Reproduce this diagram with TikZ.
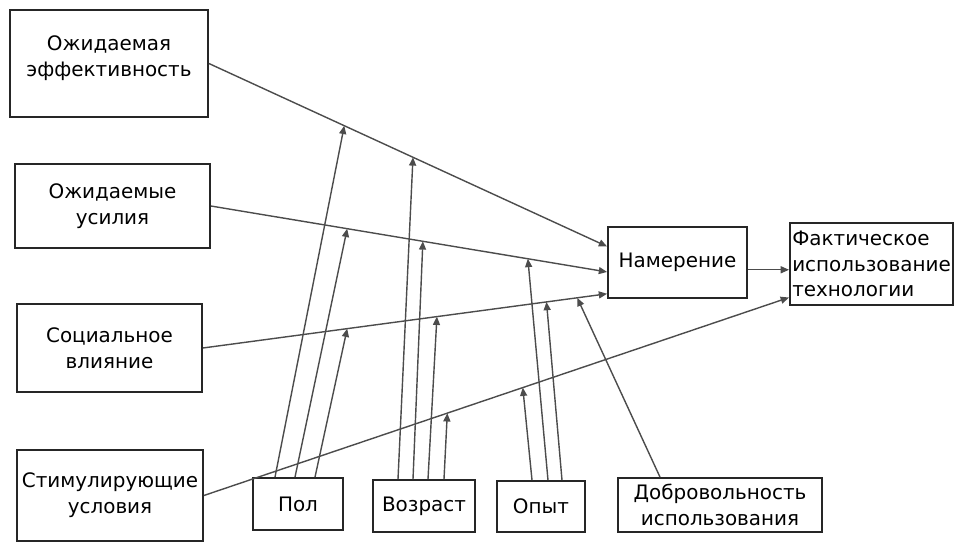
\documentclass[tikz,border=0pt]{standalone}
\usepackage{fontspec}
\setmainfont{DejaVu Sans}
\usetikzlibrary{arrows.meta,calc}

\begin{document}
\begin{tikzpicture}[x=0.03cm,y=-0.03cm,
    box/.style={draw=black!85,line width=1.5pt,inner sep=2pt,align=center,
        font=\fontsize{17}{22}\selectfont},
    link/.style={draw=black!70,line width=1.2pt,-{Triangle[length=2.5mm,width=2.1mm]}}]
    \useasboundingbox (0,0) rectangle (955,544);
    % main factors
    \node[box,minimum width=5.94cm,minimum height=3.21cm] (perf) at (109,63.5) {Ожидаемая\\эффективность\\[-10pt]};
    \node[box,minimum width=5.85cm,minimum height=2.52cm] (effort) at (112.5,206) {Ожидаемые\\усилия};
    \node[box,minimum width=5.55cm,minimum height=2.64cm] (social) at (109.5,348) {Социальное\\влияние};
    \node[box,minimum width=5.58cm,minimum height=2.73cm] (facil) at (110,495.5) {Стимулирующие\\условия};
    % moderators
    \node[box,minimum width=2.7cm,minimum height=1.56cm] (gender) at (298,504) {Пол};
    \node[box,minimum width=3.06cm,minimum height=1.56cm] (age) at (424,506) {Возраст};
    \node[box,minimum width=2.64cm,minimum height=1.53cm] (exper) at (541,506.5) {Опыт};
    \node[box,minimum width=6.12cm,minimum height=1.62cm] (volunt) at (720,505) {Добровольность\\использования};
    % outcome
    \node[box,minimum width=4.17cm,minimum height=2.13cm] (intent) at (677.5,262.5) {Намерение};
    \node[box,minimum width=4.89cm,minimum height=2.46cm,align=left] (usage) at (871.5,264) {Фактическое\\использование\\технологии};

    \draw[link] (perf.east) -- coordinate[pos=0.34] (perf-g) coordinate[pos=0.5125] (perf-a)
        ($(intent.north west)!0.28!(intent.south west)$);
    \draw[link] (effort.east) -- coordinate[pos=0.344] (eff-g) coordinate[pos=0.535] (eff-a)
        coordinate[pos=0.80] (eff-x) ($(intent.north west)!0.63!(intent.south west)$);
    \draw[link] (social.east) -- coordinate[pos=0.357] (soc-g) coordinate[pos=0.579] (soc-a)
        coordinate[pos=0.85] (soc-x) coordinate[pos=0.926] (soc-v)
        ($(intent.north west)!0.93!(intent.south west)$);
    \draw[link] (facil.east) -- coordinate[pos=0.416] (fac-a) coordinate[pos=0.545] (fac-x)
        ($(usage.north west)!0.9!(usage.south west)$);
    \coordinate (iu) at ($(intent.north east)!0.6!(intent.south east)$);
    \draw[link] (iu) -- (iu -| usage.west);

    \draw[link] ($(gender.north)+(-23,0)$) -- (perf-g);
    \draw[link] ($(gender.north)+(-3,0)$) -- (eff-g);
    \draw[link] ($(gender.north)+(17,0)$) -- (soc-g);
    \draw[link] ($(age.north)+(-26,0)$) -- (perf-a);
    \draw[link] ($(age.north)+(-11,0)$) -- (eff-a);
    \draw[link] ($(age.north)+(4,0)$) -- (soc-a);
    \draw[link] ($(age.north)+(20,0)$) -- (fac-a);
    \draw[link] ($(exper.north)+(-9,0)$) -- (fac-x);
    \draw[link] ($(exper.north)+(7,0)$) -- (eff-x);
    \draw[link] ($(exper.north)+(21,0)$) -- (soc-x);
    \draw[link] ($(volunt.north)+(-60,0)$) -- (soc-v);
\end{tikzpicture}
\end{document}
